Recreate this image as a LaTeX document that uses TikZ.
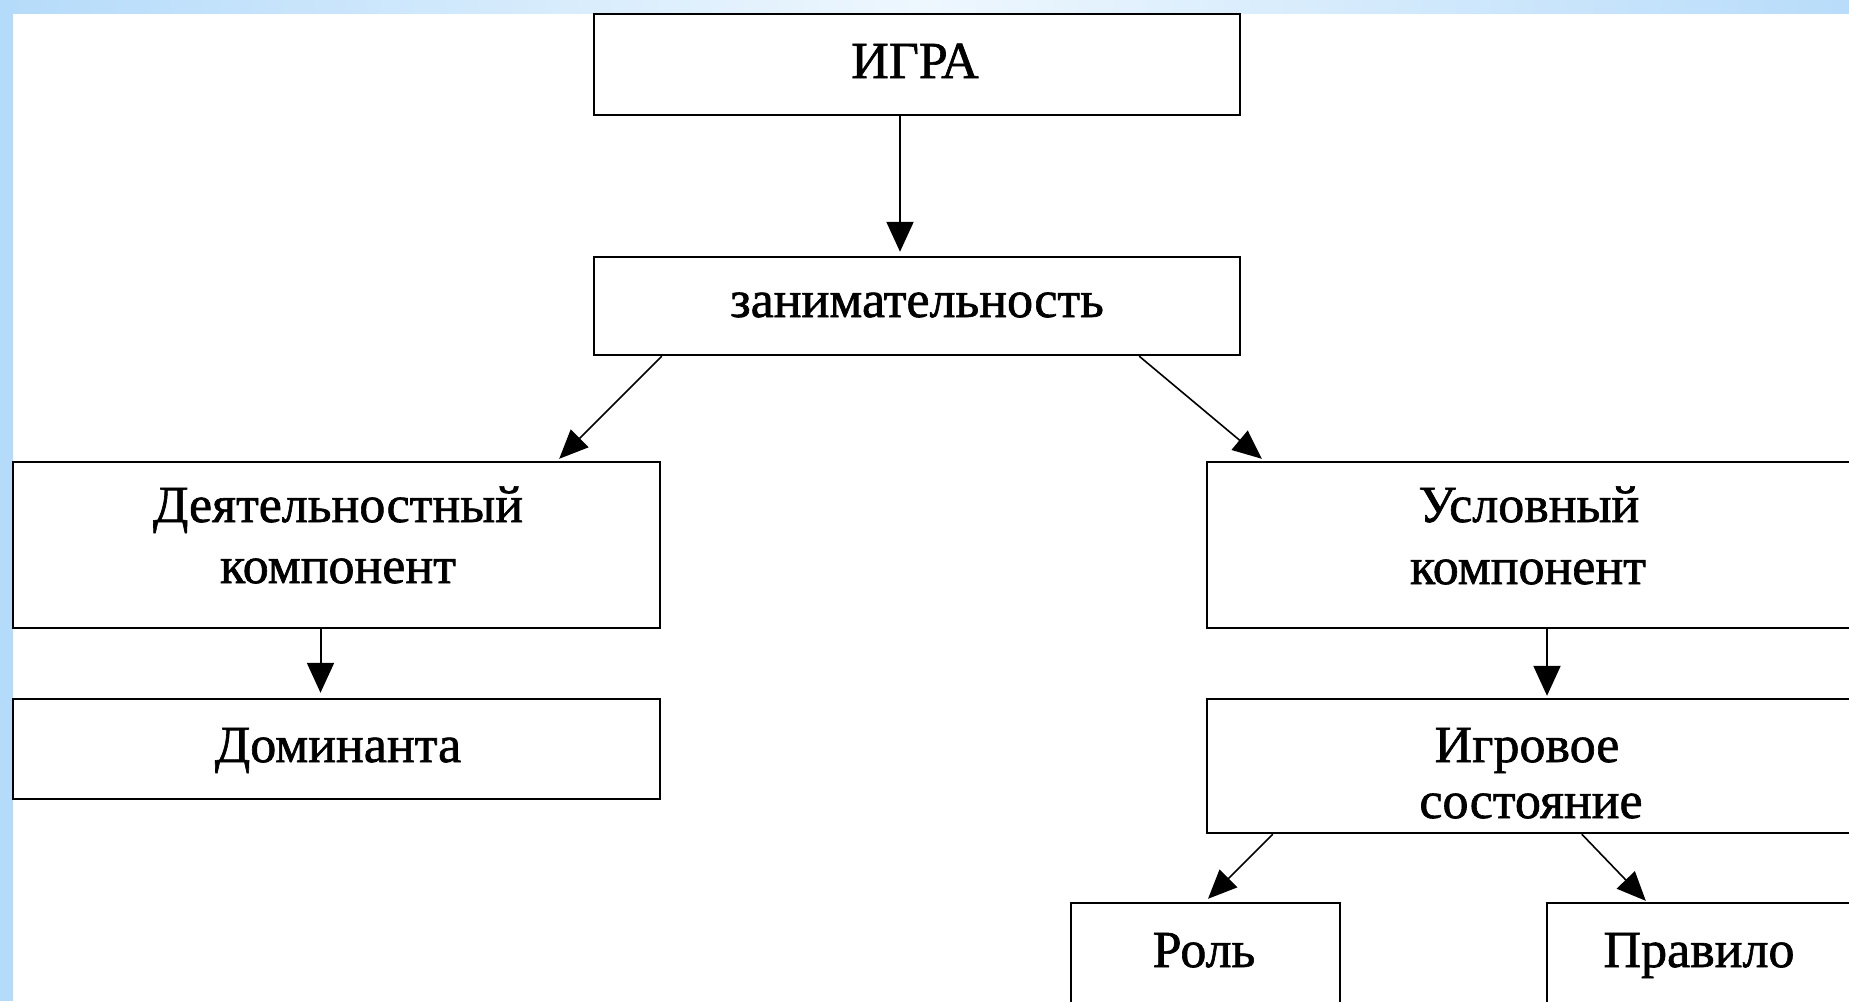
\documentclass[tikz,border=0pt]{standalone}
\usepackage{fontspec}
\setmainfont[FakeBold=1.2]{Liberation Serif}
\newfontfamily\diagfont[FakeBold=1.2]{Liberation Serif}
\usetikzlibrary{arrows.meta,calc}
\definecolor{stripblue}{HTML}{B5DBFA}
\definecolor{stripblueR}{HTML}{B8DCFA}
\definecolor{strippale}{HTML}{EEF7FE}
\tikzset{
  box/.style={draw=black, line width=2.4pt, rectangle, inner sep=0pt, fill=white},
  lbl/.style={inner sep=0pt, anchor=base, font=\diagfont\fontsize{52}{61}\selectfont},
  varr/.style={line width=2pt, -{Triangle[length=30pt,width=27pt]}},
  darr/.style={line width=1.6pt, -{Triangle[length=29pt,width=25pt]}},
}
\begin{document}
\begin{tikzpicture}[x=1pt,y=-1pt]
\useasboundingbox (0,0) rectangle (1849,1001);
\fill[white] (0,0) rectangle (1849,1001);
\shade[left color=stripblue, right color=strippale] (0,0) rectangle (925,13);
\shade[left color=strippale, right color=stripblueR] (924,0) rectangle (1849,13);
\fill[stripblue] (0,0) rectangle (13,1001);
\begin{scope}
\clip (0,0) rectangle (1849,1001);
% boxes
\node[box, minimum width=646pt, minimum height=101pt] (igra) at (917,64.5) {};
\node[box, minimum width=646pt, minimum height=98pt] (zan) at (917,306) {};
\node[box, minimum width=647pt, minimum height=166pt] (dey) at (336.5,545) {};
\node[box, minimum width=647pt, minimum height=100pt] (dom) at (336.5,749) {};
\node[box, minimum width=648pt, minimum height=166pt] (usl) at (1531,545) {};
\node[box, minimum width=648pt, minimum height=134pt] (igs) at (1531,766) {};
\node[box, minimum width=269pt, minimum height=112pt] (rol) at (1205.5,959) {};
\node[box, minimum width=308pt, minimum height=112pt] (pra) at (1701,959) {};
% labels
\node[lbl] (igra-t) at (915,78) {ИГРА};
\node[lbl] (zan-t) at (917,317) {занимательность};
\node[lbl] (dey-t1) at (338,522) {Деятельностный};
\node[lbl] (dey-t2) at (338,583) {компонент};
\node[lbl] (dom-t) at (338,762) {Доминанта};
\node[lbl] (usl-t1) at (1529,522) {Условный};
\node[lbl] (usl-t2) at (1528,584) {компонент};
\node[lbl] (igs-t1) at (1527,762) {Игровое};
\node[lbl] (igs-t2) at (1531,818) {состояние};
\node[lbl] (rol-t) at (1204,967) {Роль};
\node[lbl] (pra-t) at (1699,967) {Правило};
% connectors
\draw[varr] ([xshift=-17pt]igra.south) -- ([xshift=-17pt,yshift=4pt]zan.north);
\draw[darr] ([xshift=69pt]zan.south west) -- ([xshift=-102pt,yshift=2pt]dey.north east);
\draw[darr] ([xshift=-102pt]zan.south east) -- ([xshift=56pt,yshift=2pt]usl.north west);
\draw[varr] ([xshift=-16pt]dey.south) -- ([xshift=-16pt,yshift=5pt]dom.north);
\draw[varr] ([xshift=16pt]usl.south) -- ([xshift=16pt,yshift=2pt]igs.north);
\draw[darr] ([xshift=67pt]igs.south west) -- ([xshift=2.5pt,yshift=3pt]rol.north);
\draw[darr] ([xshift=376pt]igs.south west) -- ([xshift=100pt,yshift=1pt]pra.north west);
\end{scope}
\end{tikzpicture}
\end{document}
